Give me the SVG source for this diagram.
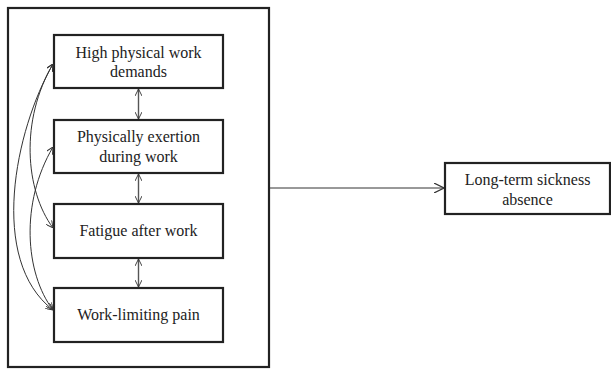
<svg xmlns="http://www.w3.org/2000/svg" width="611" height="369" viewBox="0 0 611 369">
<style>
.box{fill:#fff;stroke:#222;stroke-width:2.2}
.t{font-family:"Liberation Serif","Times New Roman",serif;font-size:16px;fill:#222;text-anchor:middle}
.c{fill:none;stroke:#333;stroke-width:1}
.v{fill:none;stroke:#555;stroke-width:1.4}
</style>
<defs>
<marker id="ah" viewBox="0 0 10 10" refX="10" refY="5" markerWidth="7" markerHeight="7" markerUnits="userSpaceOnUse" orient="auto-start-reverse">
<path d="M0,0 L10,5 L0,10" fill="none" stroke="#333" stroke-width="1.3"/>
</marker>
<marker id="ah2" viewBox="0 0 10 10" refX="10" refY="5" markerWidth="10" markerHeight="10" markerUnits="userSpaceOnUse" orient="auto-start-reverse">
<path d="M0,0 L10,5 L0,10" fill="none" stroke="#333" stroke-width="1.2"/>
</marker>
</defs>
<g id="outer"><rect class="box" x="8" y="8" width="261" height="359"/></g>
<g id="n1"><rect class="box" x="54" y="35" width="169" height="53"/><text class="t" x="138.5" y="58">High physical work</text><text class="t" x="138.5" y="77">demands</text></g>
<g id="n2"><rect class="box" x="54" y="120" width="169" height="53"/><text class="t" x="138.5" y="142">Physically exertion</text><text class="t" x="138.5" y="162">during work</text></g>
<g id="n3"><rect class="box" x="54" y="204" width="169" height="54"/><text class="t" x="138.5" y="236">Fatigue after work</text></g>
<g id="n4"><rect class="box" x="54" y="288" width="169" height="54"/><text class="t" x="138.5" y="320">Work-limiting pain</text></g>
<g id="n5"><rect class="box" x="445" y="163" width="165" height="51"/><text class="t" x="527.5" y="185">Long-term sickness</text><text class="t" x="527.5" y="205">absence</text></g>
<g id="connectors">
<path class="v" d="M138.5,89 V119" marker-start="url(#ah)" marker-end="url(#ah)"/>
<path class="v" d="M138.5,174 V203" marker-start="url(#ah)" marker-end="url(#ah)"/>
<path class="v" d="M138.5,259 V287" marker-start="url(#ah)" marker-end="url(#ah)"/>
<path class="c" d="M53,64 C15,130 -12,260 53,310" marker-start="url(#ah)" marker-end="url(#ah)"/>
<path class="c" d="M53,64 C20,120 25,190 53,228" marker-start="url(#ah)" marker-end="url(#ah)"/>
<path class="c" d="M53,147 C20,203 25,273 53,310" marker-start="url(#ah)" marker-end="url(#ah)"/>
<path class="c" d="M270,188 H444" marker-end="url(#ah2)"/>
</g>
</svg>
